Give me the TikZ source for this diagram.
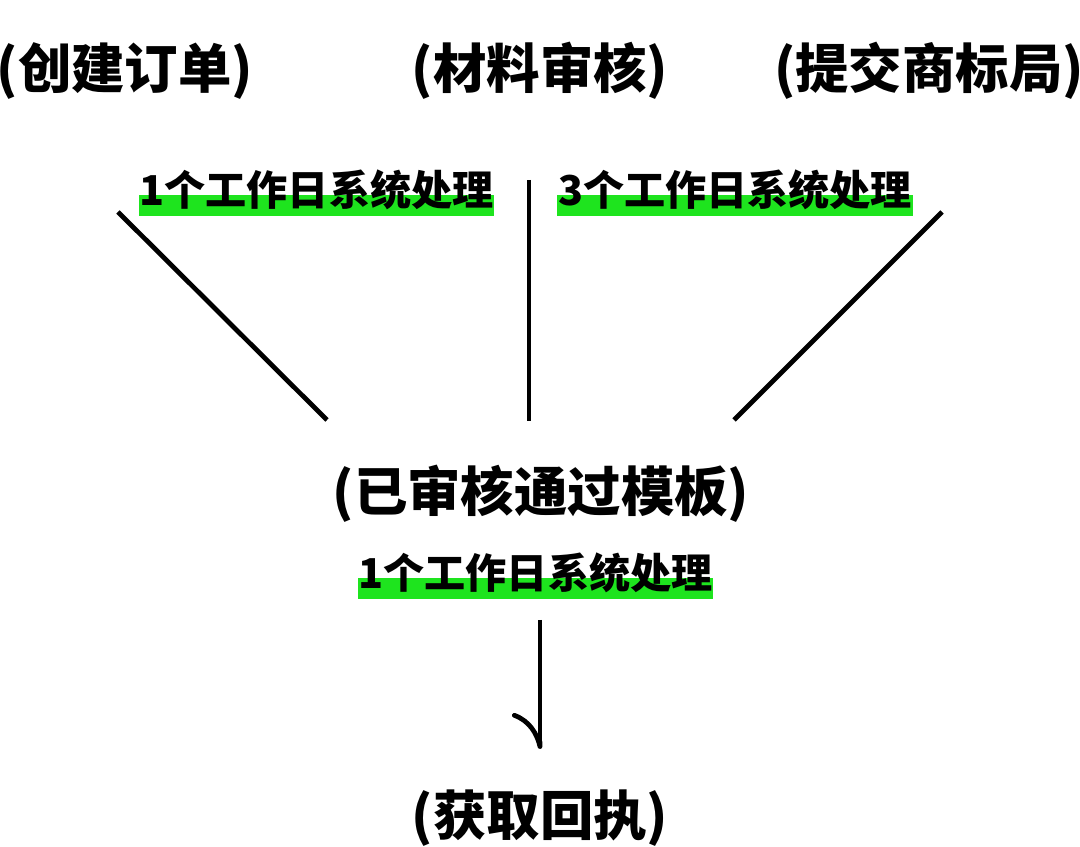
\documentclass[tikz,border=0pt]{standalone}
\usepackage{fontspec}
\newfontfamily\cjk{Noto Sans CJK SC}
\usetikzlibrary{arrows.meta,positioning,calc,backgrounds}
\definecolor{hlgreen}{RGB}{30,228,30}

\begin{document}
\begin{tikzpicture}[
    title/.style={font=\cjk\bfseries\fontsize{15.2pt}{18pt}\selectfont, inner sep=0pt},
    lbl/.style={font=\cjk\bfseries\fontsize{11.7pt}{14pt}\selectfont, inner sep=0pt},
    link/.style={line width=1.35pt, black},
    arr/.style={line width=1.35pt, -{Computer Modern Rightarrow[harpoon, swap, length=3.6mm, width=5.6mm]}}
]
    \useasboundingbox (0,0) rectangle (10.8,-8.47);

    % top row
    \node[title] (order) at (1.25,-0.71) {(创建订单)};
    \node[title] (review) at (5.40,-0.71) {(材料审核)};
    \node[title] (submit) at (9.29,-0.71) {(提交商标局)};

    % processing times
    \node[lbl] (t1) at (3.165,-1.90) {1个工作日系统处理};
    \node[lbl] (t3) at (7.35,-1.90) {3个工作日系统处理};

    % approved template and receipt
    \node[title] (approved) at (5.41,-4.94) {(已审核通过模板)};
    \node[lbl] (t1b) [below=0.29cm of approved, xshift=-0.055cm] {1个工作日系统处理};
    \node[title] (receipt) at (5.40,-8.18) {(获取回执)};

    % green highlights
    \begin{scope}[on background layer]
        \foreach \t in {t1,t3,t1b}
            \fill[hlgreen] ([yshift=3.1pt]\t.base west) rectangle ([yshift=-2.9pt]\t.base east);
    \end{scope}

    % funnel lines
    \coordinate (la) at (1.18,-2.12);
    \coordinate (lb) at (3.27,-4.20);
    \coordinate (ma) at (5.29,-1.80);
    \coordinate (mb) at (5.29,-4.21);
    \coordinate (ra) at (9.42,-2.12);
    \coordinate (rb) at (7.34,-4.20);
    \draw[link] (la) -- (lb);
    \draw[link] (ma) -- (mb);
    \draw[link] (ra) -- (rb);

    \draw[arr, shorten <=0.26cm, shorten >=0.40cm] (t1b.south -| receipt.north) -- (receipt.north);
\end{tikzpicture}
\end{document}
